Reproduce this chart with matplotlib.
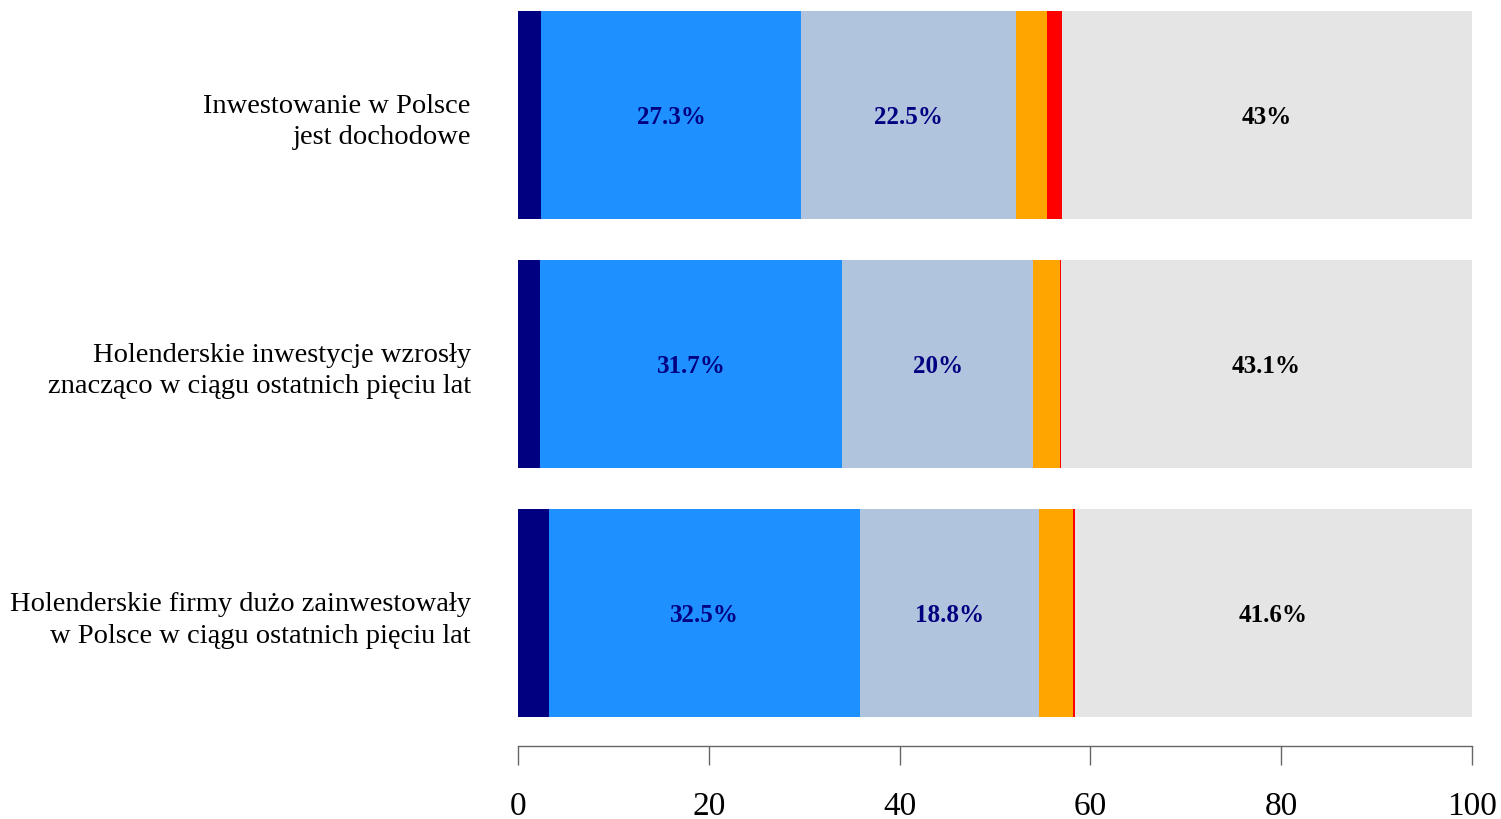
import matplotlib
matplotlib.use("Agg")
import matplotlib.pyplot as plt
import numpy as np

categories = [
    "Inwestowanie w Polsce\njest dochodowe",
    "Holenderskie inwestycje wzrosły\nznacząco w ciągu ostatnich pięciu lat",
    "Holenderskie firmy dużo zainwestowały\nw Polsce w ciągu ostatnich pięciu lat",
]
s_navy = [2.4, 2.3, 3.3]
s_blue = [27.3, 31.7, 32.5]
s_light = [22.5, 20.0, 18.8]
s_orange = [3.3, 2.8, 3.6]
s_red = [1.5, 0.1, 0.2]
s_gray = [43.0, 43.1, 41.6]
blue_labels = ["27.3%", "31.7%", "32.5%"]
light_labels = ["22.5%", "20%", "18.8%"]
gray_labels = ["43%", "43.1%", "41.6%"]
xticks = [0, 20, 40, 60, 80, 100]

series = [s_navy, s_blue, s_light, s_orange, s_red, s_gray]
colors = ["#000080", "#1E90FF", "#B0C4DE", "#FFA500", "#FF0000", "#E5E5E5"]
labels_by_series = {1: (blue_labels, "#000080"), 2: (light_labels, "#000080"), 5: (gray_labels, "black")}

plt.rcParams['font.family'] = ['Liberation Serif', 'DejaVu Serif']

W, H = 1501, 820
fig = plt.figure(figsize=(W / 100, H / 100), dpi=100)
ax = fig.add_axes([518 / W, (H - 747) / H, (1472 - 518) / W, (747 - 12) / H])

y = np.arange(len(categories))
left = np.zeros(len(categories))
for i, (vals, c) in enumerate(zip(series, colors)):
    vals = np.array(vals)
    ax.barh(y, vals, left=left, height=0.835, color=c, linewidth=0)
    if i in labels_by_series:
        labs, tc = labels_by_series[i]
        for j in range(len(y)):
            ax.text(left[j] + vals[j] / 2, y[j] + 0.005, labs[j], ha='center', va='center',
                    fontsize=18, fontweight='bold', color=tc)
    left = left + vals

ax.set_xlim(0, 100)
ax.set_ylim(2.532, -0.417)
ax.set_yticks(y)
ax.set_yticklabels(categories, fontsize=20.5, ha='right', linespacing=1.33)
ax.tick_params(axis='y', length=0, pad=34)
ax.set_xticks(xticks)
ax.set_xticklabels([str(t) for t in xticks], fontsize=24)
ax.tick_params(axis='x', direction='out', length=14, width=1, color='#666666', pad=18)
for s in ['top', 'right', 'left']:
    ax.spines[s].set_visible(False)
ax.spines['bottom'].set_color('#666666')
ax.spines['bottom'].set_linewidth(1)

fig.savefig("out.png", dpi=100)
